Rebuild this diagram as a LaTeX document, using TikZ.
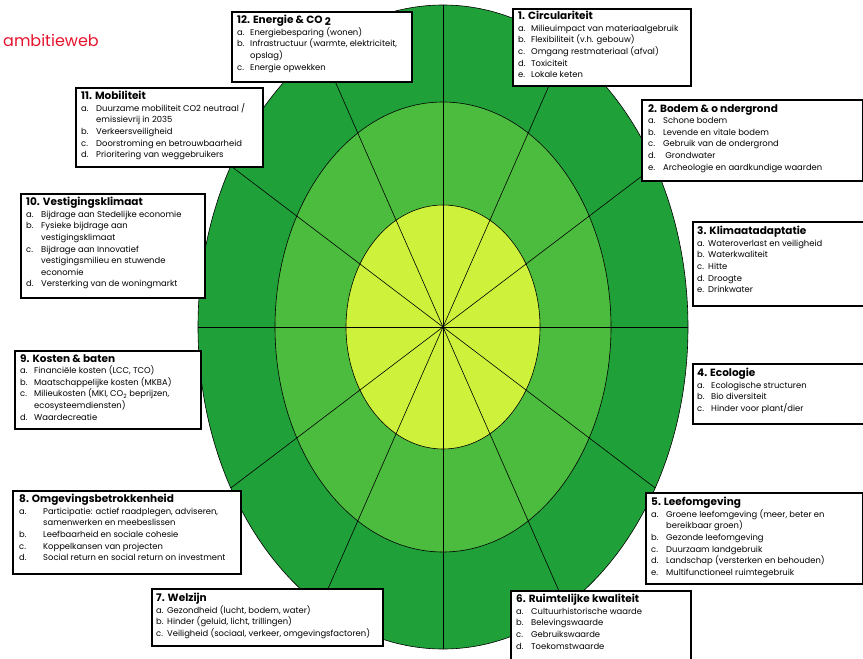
\documentclass[tikz,border=0pt]{standalone}
\usepackage{fontspec}
\setmainfont{Poppins}
\usetikzlibrary{positioning}
\definecolor{ringout}{RGB}{32,160,56}
\definecolor{ringmid}{RGB}{76,188,62}
\definecolor{ringin}{RGB}{206,242,60}
\definecolor{webred}{RGB}{230,20,45}
% label column for the items
\newcommand{\itm}[3][13pt]{\makebox[#1][l]{#2}#3}
\newcommand{\ttl}[1]{{\fontsize{10.5}{13}\selectfont\bfseries #1}}

\begin{document}
\begin{tikzpicture}[
    x=1pt, y=-1pt,
    themebox/.style={draw, line width=2pt, fill=white, inner sep=0pt, anchor=north west},
    themetext/.style={inner sep=0pt, align=left, font=\fontsize{8.4}{11.6}\selectfont},
    ring/.style={draw=black, line width=0.6pt}
]
\useasboundingbox (0,0) rectangle (863,659);

% Web
\coordinate (cen) at (443,327);
\fill[ringout, ring] (cen) ellipse [x radius=245pt, y radius=322pt];
\fill[ringmid, ring] (cen) ellipse [x radius=168pt, y radius=225pt];
\fill[ringin, ring] (cen) ellipse [x radius=97pt, y radius=122pt];
\foreach \a in {0,30,...,330}
    \draw[line width=0.6pt] (cen) -- ++({245*cos(\a)},{322*sin(\a)});

% Title
\node[anchor=west, inner sep=0pt, text=webred, font=\fontsize{16}{18}\selectfont] (title) at (3,40) {ambitieweb};

% Theme boxes
\node[themebox, minimum width=180pt, minimum height=70pt] (b12) at (231,11) {};
\node[themebox, minimum width=178pt, minimum height=77pt] (b1) at (512,8) {};
\node[themebox, minimum width=221pt, minimum height=81pt] (b2) at (641,99) {};
\node[themebox, minimum width=172pt, minimum height=84pt] (b3) at (692,221) {};
\node[themebox, minimum width=172pt, minimum height=60pt] (b4) at (692,363) {};
\node[themebox, minimum width=217pt, minimum height=91pt] (b5) at (645,492) {};
\node[themebox, minimum width=180pt, minimum height=72pt] (b6) at (510,590) {};
\node[themebox, minimum width=231pt, minimum height=57pt] (b7) at (151,588) {};
\node[themebox, minimum width=228pt, minimum height=83pt] (b8) at (12,490) {};
\node[themebox, minimum width=186pt, minimum height=78pt] (b9) at (14,350) {};
\node[themebox, minimum width=184pt, minimum height=104pt] (b10) at (20,193) {};
\node[themebox, minimum width=187pt, minimum height=79pt] (b11) at (75,87) {};

% Theme texts
\node[themetext, below right=4pt and 6pt of b12.north west] (t12) {\ttl{12. Energie \& CO~\raisebox{-1.5pt}{2}}\\
    \itm{a.}{Energiebesparing (wonen)}\\
    \itm{b.}{Infrastructuur (warmte, elektriciteit,}\\
    \itm{}{opslag)}\\
    \itm{c.}{Energie opwekken}};
\node[themetext, below right=3pt and 6pt of b1.north west] (t1) {\ttl{1. Circulariteit}\\
    \itm{a.}{Milieuimpact van materiaalgebruik}\\
    \itm{b.}{Flexibiliteit (v.h. gebouw)}\\
    \itm{c.}{Omgang restmateriaal (afval)}\\
    \itm{d.}{Toxiciteit}\\
    \itm{e.}{Lokale keten}};
\node[themetext, below right=5pt and 7pt of b2.north west] (t2) {\ttl{2. Bodem \& o ndergrond}\\
    \itm[15pt]{a.}{Schone bodem}\\
    \itm[15pt]{b.}{Levende en vitale bodem}\\
    \itm[15pt]{c.}{Gebruik van de ondergrond}\\
    \itm[15pt]{d.}{\ Grondwater}\\
    \itm[15pt]{e.}{Archeologie en aardkundige waarden}};
\node[themetext, below right=5pt and 5pt of b3.north west] (t3) {\ttl{3. Klimaatadaptatie}\\
    \itm[11pt]{a.}{Wateroverlast en veiligheid}\\
    \itm[11pt]{b.}{Waterkwaliteit}\\
    \itm[11pt]{c.}{Hitte}\\
    \itm[11pt]{d.}{Droogte}\\
    \itm[11pt]{e.}{Drinkwater}};
\node[themetext, below right=5pt and 5pt of b4.north west] (t4) {\ttl{4. Ecologie}\\
    \itm[14pt]{a.}{Ecologische structuren}\\
    \itm[14pt]{b.}{Bio diversiteit}\\
    \itm[14pt]{c.}{Hinder voor plant/dier}};
\node[themetext, below right=5pt and 6pt of b5.north west] (t5) {\ttl{5. Leefomgeving}\\
    \itm[15pt]{a.}{Groene leefomgeving (meer, beter en}\\
    \itm[15pt]{}{bereikbaar groen)}\\
    \itm[15pt]{b.}{Gezonde leefomgeving}\\
    \itm[15pt]{c.}{Duurzaam landgebruik}\\
    \itm[15pt]{d.}{Landschap (versterken en behouden)}\\
    \itm[15pt]{e.}{Multifunctioneel ruimtegebruik}};
\node[themetext, below right=4pt and 6pt of b6.north west] (t6) {\ttl{6. Ruimtelijke kwaliteit}\\
    \itm[15pt]{a.}{Cultuurhistorische waarde}\\
    \itm[15pt]{b.}{Belevingswaarde}\\
    \itm[15pt]{c.}{Gebruikswaarde}\\
    \itm[15pt]{d.}{Toekomstwaarde}};
\node[themetext, below right=5pt and 5pt of b7.north west] (t7) {\ttl{7. Welzijn}\\
    \itm[11pt]{a.}{Gezondheid (lucht, bodem, water)}\\
    \itm[11pt]{b.}{Hinder (geluid, licht, trillingen)}\\
    \itm[11pt]{c.}{Veiligheid (sociaal, verkeer, omgevingsfactoren)}};
\node[themetext, below right=4pt and 7pt of b8.north west] (t8) {\ttl{8. Omgevingsbetrokkenheid}\\
    \itm[24pt]{a.}{Participatie: actief raadplegen, adviseren,}\\
    \itm[24pt]{}{samenwerken en meebeslissen}\\
    \itm[24pt]{b.}{Leefbaarheid en sociale cohesie}\\
    \itm[24pt]{c.}{Koppelkansen van projecten}\\
    \itm[24pt]{d.}{Social return en social return on investment}};
\node[themetext, below right=4pt and 6pt of b9.north west] (t9) {\ttl{9. Kosten \& baten}\\
    \itm[14pt]{a.}{Financiële kosten (LCC, TCO)}\\
    \itm[14pt]{b.}{Maatschappelijke kosten (MKBA)}\\
    \itm[14pt]{c.}{Milieukosten (MKI, CO\textsubscript{2} beprijzen,}\\
    \itm[14pt]{}{ecosysteemdiensten)}\\
    \itm[14pt]{d.}{Waardecreatie}};
\node[themetext, below right=4pt and 6pt of b10.north west] (t10) {\ttl{10. Vestigingsklimaat}\\
    \itm[15pt]{a.}{Bijdrage aan Stedelijke economie}\\
    \itm[15pt]{b.}{Fysieke bijdrage aan}\\
    \itm[15pt]{}{vestigingsklimaat}\\
    \itm[15pt]{c.}{Bijdrage aan Innovatief}\\
    \itm[15pt]{}{vestigingsmilieu en stuwende}\\
    \itm[15pt]{}{economie}\\
    \itm[15pt]{d.}{Versterking van de woningmarkt}};
\node[themetext, below right=4pt and 6pt of b11.north west] (t11) {\ttl{11. Mobiliteit}\\
    \itm[15pt]{a.}{Duurzame mobiliteit CO2 neutraal /}\\
    \itm[15pt]{}{emissievrij in 2035}\\
    \itm[15pt]{b.}{Verkeersveiligheid}\\
    \itm[15pt]{c.}{Doorstroming en betrouwbaarheid}\\
    \itm[15pt]{d.}{Prioritering van weggebruikers}};
\end{tikzpicture}
\end{document}
